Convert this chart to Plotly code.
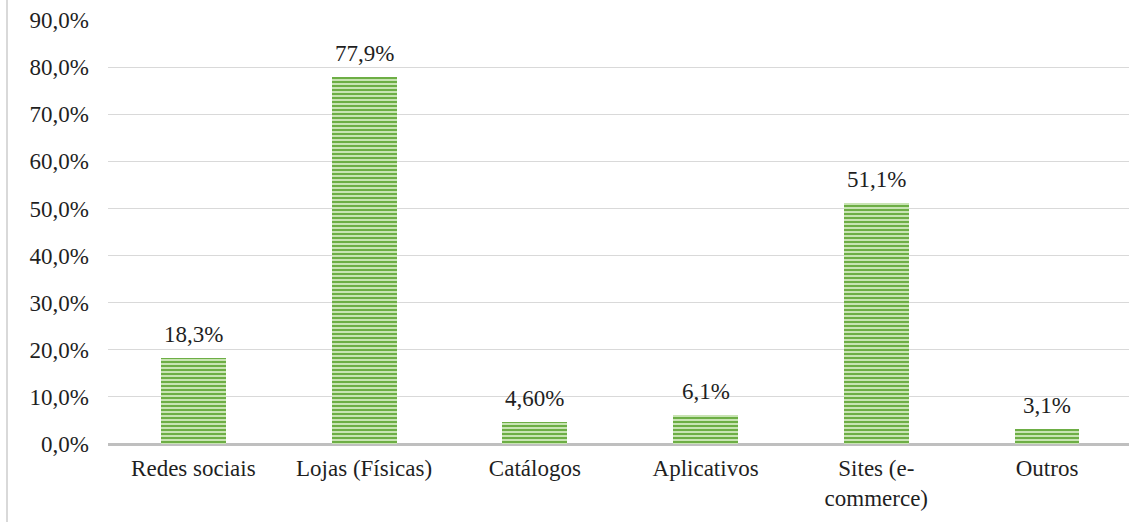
import plotly.graph_objects as go

# Canais de compra mais utilizados (% dos respondentes)
categorias = ["Redes sociais", "Lojas (Físicas)", "Catálogos", "Aplicativos",
              "Sites (e-<br>commerce)", "Outros"]
percentuais = [18.3, 77.9, 4.6, 6.1, 51.1, 3.1]
rotulos = ["18,3%", "77,9%", "4,60%", "6,1%", "51,1%", "3,1%"]
ticks_y = [0, 10, 20, 30, 40, 50, 60, 70, 80, 90]

W, H = 1129, 525
ML, MR, MT, MB = 108, 0, 20, 81
FONT = "Liberation Serif, Times New Roman, serif"
FS = 23
COR_TEXTO = "#1f1f1f"

fig = go.Figure()
fig.add_trace(go.Bar(
    x=list(range(len(categorias))),
    y=[v / 100 for v in percentuais],
    width=0.38,
    marker=dict(
        color="#B5D89E",
        line=dict(width=0),
        pattern=dict(shape="-", size=4, solidity=0.5,
                     fgcolor="#6DAE45", bgcolor="#C8E4B3",
                     fillmode="replace"),
    ),
    hoverinfo="skip",
))

# rótulos de valor acima das barras
for i, (v, r) in enumerate(zip(percentuais, rotulos)):
    fig.add_annotation(x=i, y=v / 100, text=r, showarrow=False,
                       yanchor="bottom", yshift=9,
                       font=dict(family=FONT, size=FS, color=COR_TEXTO))

plot_h = H - MT - MB
plot_w = W - ML - MR
fig.add_shape(type="line", xref="paper", yref="paper",
              x0=(7 - ML) / plot_w, x1=(7 - ML) / plot_w,
              y0=(H - MB - 0) / plot_h, y1=(H - MB - 522) / plot_h,
              line=dict(color="#D9D9D9", width=2))

fig.update_layout(
    width=W, height=H,
    margin=dict(l=ML, r=MR, t=MT, b=MB),
    paper_bgcolor="white", plot_bgcolor="white",
    separators=",.",
    showlegend=False,
    font=dict(family=FONT, size=FS, color=COR_TEXTO),
    bargap=0,
    xaxis=dict(
        tickmode="array",
        tickvals=list(range(len(categorias))),
        ticktext=categorias,
        range=[-0.5, 5.48],
        showgrid=False,
        showline=False,
        zeroline=False,
        ticks="",
        ticklabelstandoff=8,
        tickfont=dict(family=FONT, size=FS, color=COR_TEXTO),
    ),
    yaxis=dict(
        range=[0, 0.9],
        tickmode="array",
        tickvals=[t / 100 for t in ticks_y],
        tickformat=".1%",
        showgrid=True,
        gridcolor="#D9D9D9",
        gridwidth=1,
        zeroline=True,
        zerolinecolor="#BFBFBF",
        zerolinewidth=3,
        showline=False,
        ticks="",
        ticklabelstandoff=18,
        tickfont=dict(family=FONT, size=FS, color=COR_TEXTO),
    ),
)

fig.write_html("out.html")
